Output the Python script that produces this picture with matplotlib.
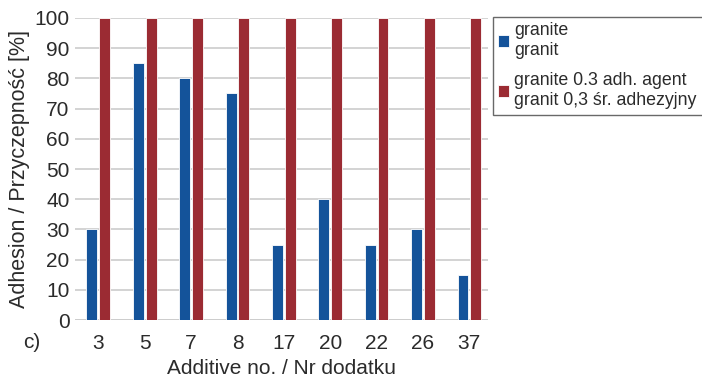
import matplotlib.pyplot as plt
import numpy as np

plt.rcParams['font.family'] = ['Liberation Sans', 'DejaVu Sans']

additives = ['3', '5', '7', '8', '17', '20', '22', '26', '37']
granite = [30, 85, 80, 75, 25, 40, 25, 30, 15]
granite_agent = [100, 100, 100, 100, 100, 100, 100, 100, 100]

blue = '#14539a'
red = '#9b2b33'
txt = '#2b2b2b'

fig = plt.figure(figsize=(7.02, 3.82), dpi=100)
ax = fig.add_axes([0.107, 0.162, 0.588, 0.791])

x = np.arange(len(additives))
w = 0.235
b1 = ax.bar(x - w / 2 - 0.02, granite, w, color=blue, edgecolor='white', linewidth=0.6,
            label='granite\ngranit', zorder=3)
b2 = ax.bar(x + w / 2 + 0.02, granite_agent, w, color=red, edgecolor='white', linewidth=0.6,
            label='granite 0.3 adh. agent\ngranit 0,3 śr. adhezyjny', zorder=3)

ax.set_ylim(0, 100)
ax.set_xlim(-0.5, 8.4)
ax.set_yticks(range(0, 101, 10))
ax.set_xticks(x)
ax.set_xticklabels(additives)
ax.yaxis.grid(True, color='#cccccc', linewidth=1.2, zorder=0)
ax.axhline(0, color='#cccccc', linewidth=1.2, zorder=1)
for s in ax.spines.values():
    s.set_visible(False)
ax.tick_params(axis='both', length=0, labelsize=15, labelcolor=txt)
ax.tick_params(axis='y', pad=4)
ax.tick_params(axis='x', pad=10)
ax.set_ylabel('Adhesion / Przyczepność [%]', fontsize=15.5, color=txt, labelpad=3)
ax.set_xlabel('Additive no. / Nr dodatku', fontsize=15, color=txt, labelpad=4)
fig.text(0.033, 0.088, 'c)', fontsize=15, color=txt)

# legend box runs off the right edge, as in the source figure
leg = fig.legend(handles=[b1, b2], loc='upper left',
                 bbox_to_anchor=(0.702, 0.70, 0.5, 0.256), mode='expand',
                 fontsize=12.8, frameon=True, fancybox=False, edgecolor='#444444',
                 handlelength=0.6, handleheight=0.6, handletextpad=0.3,
                 borderpad=0.32, labelspacing=0.75, borderaxespad=0)
leg.get_frame().set_linewidth(1.0)
for t in leg.get_texts():
    t.set_color(txt)
    t.set_linespacing(1.2)

fig.savefig('out.png', dpi=100)
